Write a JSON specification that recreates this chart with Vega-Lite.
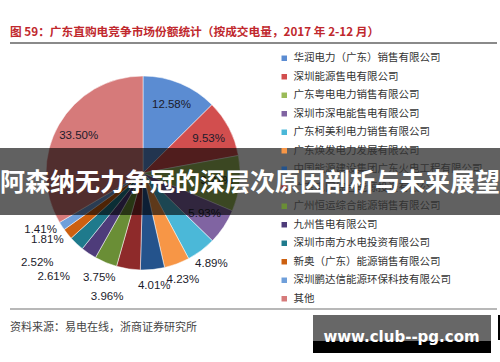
{
  "$schema": "https://vega.github.io/schema/vega-lite/v6.json",
  "width": 194,
  "height": 194,
  "autosize": "none",
  "padding": {"left": 46, "top": 76, "right": 260, "bottom": 92},
  "background": "white",
  "view": {"stroke": null},
  "config": {"font": "Noto Sans CJK SC"},
  "title": {
    "text": "阿森纳无力争冠的深层次原因剖析与未来展望",
    "orient": "top",
    "anchor": "middle",
    "frame": "group",
    "dx": 107,
    "offset": -181,
    "baseline": "middle",
    "font": "Noto Sans CJK SC",
    "fontSize": 25,
    "fontWeight": "bold",
    "color": "#ffffff"
  },
  "data": {
    "values": [
      {"order": 1, "company": "华润电力（广东）销售有限公司", "share": 0.1258},
      {"order": 2, "company": "深圳能源售电有限公司", "share": 0.0953},
      {"order": 3, "company": "广东粤电电力销售有限公司", "share": 0.0927},
      {"order": 4, "company": "深圳市深电能售电有限公司", "share": 0.0593},
      {"order": 5, "company": "广东柯美利电力销售有限公司", "share": 0.0489},
      {"order": 6, "company": "广东焕发电力发展有限公司", "share": 0.0423},
      {"order": 7, "company": "中国能源建设集团广东火电工程有限公司", "share": 0.0401},
      {"order": 8, "company": "广东电网综合能源投资有限公司", "share": 0.0396},
      {"order": 9, "company": "广州恒运综合能源销售有限公司", "share": 0.0375},
      {"order": 10, "company": "九州售电有限公司", "share": 0.0261},
      {"order": 11, "company": "深圳市南方水电投资有限公司", "share": 0.0252},
      {"order": 12, "company": "新奥（广东）能源销售有限公司", "share": 0.0181},
      {"order": 13, "company": "深圳鹏达信能源环保科技有限公司", "share": 0.0141},
      {"order": 14, "company": "其他", "share": 0.3350}
    ]
  },
  "layer": [
    {
      "mark": {"type": "arc", "stroke": "#ffffff", "strokeWidth": 0.5},
      "encoding": {
        "theta": {"field": "share", "type": "quantitative", "stack": true},
        "order": {"field": "order", "type": "quantitative"},
        "color": {
          "field": "company",
          "type": "nominal",
          "scale": {
            "domain": ["华润电力（广东）销售有限公司", "深圳能源售电有限公司", "广东粤电电力销售有限公司", "深圳市深电能售电有限公司", "广东柯美利电力销售有限公司", "广东焕发电力发展有限公司", "中国能源建设集团广东火电工程有限公司", "广东电网综合能源投资有限公司", "广州恒运综合能源销售有限公司", "九州售电有限公司", "深圳市南方水电投资有限公司", "新奥（广东）能源销售有限公司", "深圳鹏达信能源环保科技有限公司", "其他"],
            "range": ["#5B8CD2", "#D24E4E", "#9BBB59", "#8064A2", "#4BB8D8", "#F79646", "#24538C", "#8E2A2A", "#6A8E36", "#4E3C7A", "#1F7A8C", "#CC6010", "#6F9FDA", "#D67A7A"]
          },
          "legend": {
            "orient": "none",
            "legendX": 233,
            "legendY": -23,
            "title": null,
            "padding": 0,
            "symbolType": "square",
            "symbolSize": 30,
            "symbolStrokeWidth": 0,
            "labelFont": "Noto Sans CJK SC",
            "labelFontSize": 10.5,
            "labelColor": "#333333",
            "labelLimit": 400,
            "labelOffset": 4,
            "rowPadding": 7.5
          }
        }
      }
    },
    {
      "mark": {"type": "text", "radius": 74, "font": "Liberation Sans", "fontSize": 11.5, "color": "#1b1b2b"},
      "encoding": {
        "theta": {"field": "share", "type": "quantitative", "stack": true},
        "order": {"field": "order", "type": "quantitative"},
        "text": {"condition": {"test": "datum.share >= 0.05", "field": "share", "type": "quantitative", "format": ".2%"}, "value": ""}
      }
    },
    {
      "mark": {"type": "text", "radius": 114, "font": "Liberation Sans", "fontSize": 11.5, "color": "#1b1b2b"},
      "encoding": {
        "theta": {"field": "share", "type": "quantitative", "stack": true},
        "order": {"field": "order", "type": "quantitative"},
        "text": {"condition": {"test": "datum.share < 0.05 && datum.order <= 9 && datum.order != 8", "field": "share", "type": "quantitative", "format": ".2%"}, "value": ""}
      }
    },
    {
      "mark": {"type": "text", "radius": 131, "dx": -16, "dy": -5, "font": "Liberation Sans", "fontSize": 11.5, "color": "#1b1b2b"},
      "encoding": {
        "theta": {"field": "share", "type": "quantitative", "stack": true},
        "order": {"field": "order", "type": "quantitative"},
        "text": {"condition": {"test": "datum.order == 8 || datum.order == 10 || datum.order == 11", "field": "share", "type": "quantitative", "format": ".2%"}, "value": ""}
      }
    },
    {
      "mark": {"type": "text", "radius": 114, "dx": -7, "dy": -5, "font": "Liberation Sans", "fontSize": 11.5, "color": "#1b1b2b"},
      "encoding": {
        "theta": {"field": "share", "type": "quantitative", "stack": true},
        "order": {"field": "order", "type": "quantitative"},
        "text": {"condition": {"test": "datum.order == 12 || datum.order == 13", "field": "share", "type": "quantitative", "format": ".2%"}, "value": ""}
      }
    },
    {
      "data": {"values": [{}]},
      "mark": {"type": "text", "text": "图 59：广东直购电竞争市场份额统计（按成交电量，2017 年 2-12 月）", "align": "left", "baseline": "middle", "font": "Noto Sans CJK SC", "fontSize": 11.7, "fontWeight": "bold", "color": "#C0282D"},
      "encoding": {"x": {"value": -36}, "y": {"value": -44}}
    },
    {
      "data": {"values": [{}]},
      "mark": {"type": "rule", "color": "#8a8a8a", "strokeWidth": 1.8},
      "encoding": {"x": {"value": -36}, "x2": {"value": 451}, "y": {"value": -33}}
    },
    {
      "data": {"values": [{}]},
      "mark": {"type": "rule", "color": "#a0a0a0", "strokeWidth": 1.5},
      "encoding": {"x": {"value": -36}, "x2": {"value": 451}, "y": {"value": 233}}
    },
    {
      "data": {"values": [{}]},
      "mark": {"type": "text", "text": "资料来源：易电在线，浙商证券研究所", "align": "left", "baseline": "middle", "font": "Noto Sans CJK SC", "fontSize": 11, "color": "#444444"},
      "encoding": {"x": {"value": -36}, "y": {"value": 252}}
    },
    {
      "data": {"values": [{}]},
      "mark": {"type": "rect", "color": "#000000", "opacity": 0.62},
      "encoding": {"x": {"value": -46}, "x2": {"value": 454}, "y": {"value": 72}, "y2": {"value": 139}}
    },
    {
      "data": {"values": [{}]},
      "mark": {"type": "rect", "color": "#676767", "opacity": 1},
      "encoding": {"x": {"value": 267}, "x2": {"value": 445}, "y": {"value": 239}, "y2": {"value": 265}}
    },
    {
      "data": {"values": [{}]},
      "mark": {"type": "rect", "color": "#000000", "opacity": 1},
      "encoding": {"x": {"value": 267}, "x2": {"value": 445}, "y": {"value": 265}, "y2": {"value": 277}}
    },
    {
      "data": {"values": [{}]},
      "mark": {"type": "rect", "color": "#000000", "opacity": 1},
      "encoding": {"x": {"value": 452}, "x2": {"value": 454}, "y": {"value": 239}, "y2": {"value": 264}}
    },
    {
      "data": {"values": [{}]},
      "mark": {"type": "text", "text": "www.club--pg.com", "align": "center", "baseline": "alphabetic", "font": "DejaVu Sans", "fontSize": 15, "fontWeight": "bold", "color": "#ffffff"},
      "encoding": {"x": {"value": 355.5}, "y": {"value": 266}}
    }
  ]
}
